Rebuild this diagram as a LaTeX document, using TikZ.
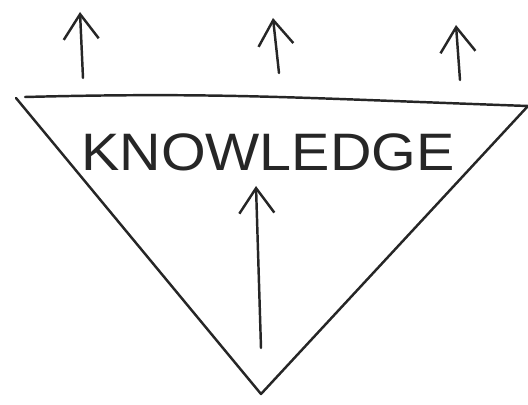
\documentclass[tikz,border=0pt]{standalone}
\usepackage{fontspec}
\setmainfont{Liberation Sans}
\usetikzlibrary{arrows.meta}

\begin{document}
\begin{tikzpicture}[
  x=0.02cm, y=-0.02cm, line width=1.4pt, line cap=round, line join=round,
  draw=black!85,
  up/.style={-{Straight Barb[length=5mm, width=7mm]}},
  word/.style={font=\fontsize{30}{34}\selectfont, text=black!85, inner sep=0pt},
]
  \useasboundingbox (0,0) rectangle (528,405);
  % inverted triangle
  \coordinate (tl) at (16,98);
  \coordinate (tr) at (528,106);
  \coordinate (tip) at (261,394);
  \draw (tl) -- (tip) -- (tr);
  \draw (25,97) .. controls (220,92) and (300,98) .. (tr);
  \node[word, xscale=1.09] (know) at (268,152) {KNOWLEDGE};
  % arrows
  \coordinate (in0) at (261,348);
  \coordinate (in1) at (256,186);
  \draw[up] (in0) -- (in1);
  \foreach \name/\xa/\ya/\xb/\yb in {l/83/78/80/12, m/279/73/273/18, r/460/80/456/25} {
    \coordinate (\name0) at (\xa,\ya);
    \coordinate (\name1) at (\xb,\yb);
    \draw[up] (\name0) -- (\name1);
  }
\end{tikzpicture}
\end{document}
